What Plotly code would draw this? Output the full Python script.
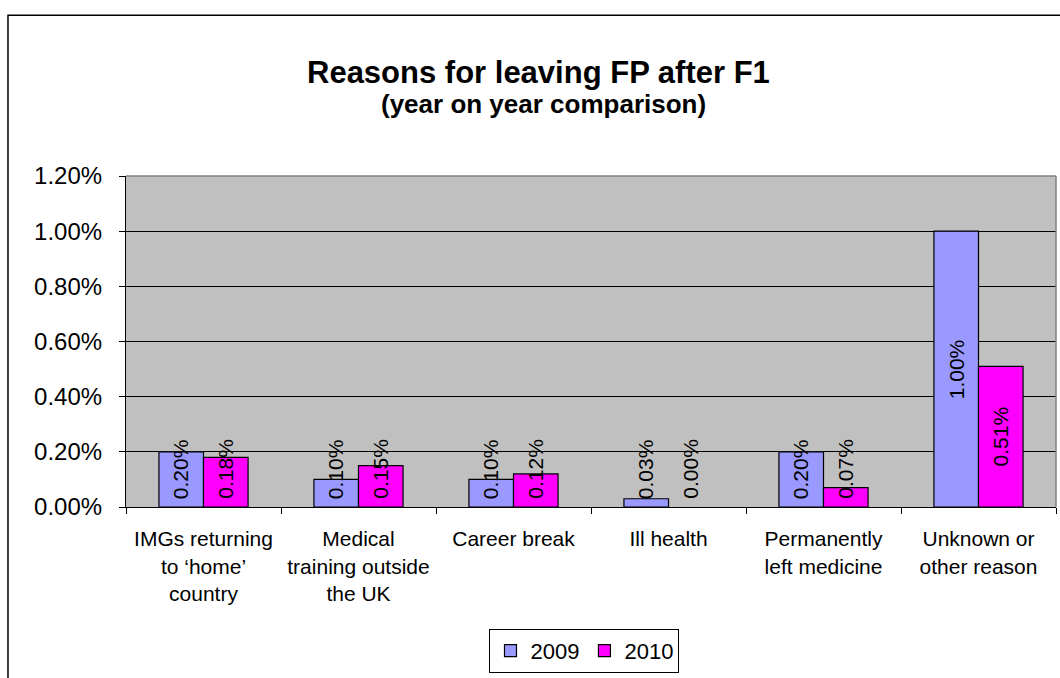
import plotly.graph_objects as go

categories = ["IMGs returning<br>to \u2018home\u2019<br>country",
              "Medical<br>training outside<br>the UK",
              "Career break",
              "Ill health",
              "Permanently<br>left medicine",
              "Unknown or<br>other reason"]
values_2009 = [0.0020, 0.0010, 0.0010, 0.0003, 0.0020, 0.0100]
values_2010 = [0.0018, 0.0015, 0.0012, 0.0000, 0.0007, 0.0051]
series_names = ["2009", "2010"]
colors = ["#9999FF", "#FF00FF"]

FONT = "Liberation Sans, Arial, sans-serif"

fig = go.Figure()
for name, vals, col in zip(series_names, [values_2009, values_2010], colors):
    fig.add_trace(go.Bar(x=categories, y=vals, name=name,
                         marker=dict(color=col,
                                     line=dict(color="#000000",
                                               width=[1.2 if v > 0 else 0 for v in vals])),
                         hoverinfo="skip"))

# rotated data labels
bar_half = 22.3
min_center = 0.00138
annotations = []
for i, (name, vals) in enumerate(zip(series_names, [values_2009, values_2010])):
    shift = -bar_half if i == 0 else bar_half
    for c, v in zip(categories, vals):
        annotations.append(dict(x=c, y=max(v / 2, min_center), xref="x", yref="y",
                                text=f"{v*100:.2f}%", textangle=-90, showarrow=False,
                                xshift=shift, xanchor="center", yanchor="middle",
                                font=dict(family=FONT, size=21, color="#000000")))

annotations.append(dict(x=0.444, y=1.313, xref="paper", yref="paper",
                        text="<b>Reasons for leaving FP after F1</b>", showarrow=False,
                        xanchor="center", yanchor="middle",
                        font=dict(family=FONT, size=31, color="#000000")))
annotations.append(dict(x=0.449, y=1.219, xref="paper", yref="paper",
                        text="<b>(year on year comparison)</b>", showarrow=False,
                        xanchor="center", yanchor="middle",
                        font=dict(family=FONT, size=26, color="#000000")))

shapes = [
    # outer chart frame
    dict(type="rect", xref="paper", yref="paper", x0=-0.1269, y0=-0.6, x1=1.05, y1=1.4856,
         line=dict(color="#000000", width=1.5), fillcolor="rgba(0,0,0,0)", layer="below"),
    # top and right plot-area border (gray)
    dict(type="line", xref="paper", yref="paper", x0=0, y0=1, x1=1, y1=1,
         line=dict(color="#808080", width=1.5)),
    dict(type="line", xref="paper", yref="paper", x0=1, y0=0, x1=1, y1=1,
         line=dict(color="#808080", width=1.5)),
]

fig.update_layout(
    width=1060, height=678,
    margin=dict(l=126, r=4, t=176, b=171, autoexpand=False),
    paper_bgcolor="#FFFFFF", plot_bgcolor="#C0C0C0",
    barmode="group", bargap=0.425, bargroupgap=0,
    font=dict(family=FONT, color="#000000"),
    showlegend=True,
    legend=dict(orientation="h", x=0.493, y=-0.368, xanchor="center", yanchor="top",
                bordercolor="#000000", borderwidth=1, bgcolor="#FFFFFF",
                font=dict(family=FONT, size=22, color="#000000"),
                itemwidth=30, tracegroupgap=0),
    annotations=annotations,
    shapes=shapes,
)
fig.update_xaxes(showline=True, linecolor="#000000", linewidth=1.2,
                 ticks="outside", ticklen=6, tickcolor="#000000", tickson="boundaries",
                 tickfont=dict(family=FONT, size=21, color="#000000"),
                 ticklabelstandoff=13, showgrid=False)
fig.update_yaxes(range=[0, 0.012], dtick=0.002, tickformat=".2%",
                 showline=True, linecolor="#000000", linewidth=1.2,
                 ticks="outside", ticklen=6, tickcolor="#000000",
                 tickfont=dict(family=FONT, size=24, color="#000000"),
                 showgrid=True, gridcolor="#000000", gridwidth=1, zeroline=False,
                 ticklabelstandoff=12)

fig.write_html("out.html")
